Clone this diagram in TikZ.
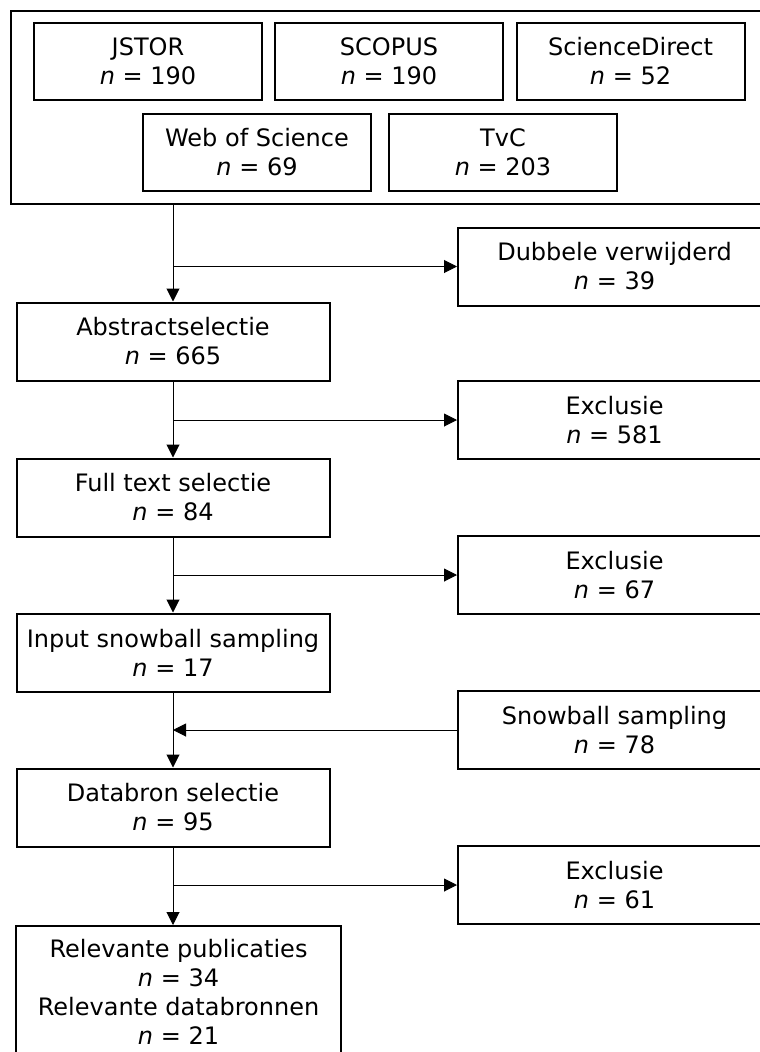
\documentclass[tikz,border=0pt]{standalone}
\usepackage{fontspec}
\setmainfont{DejaVu Sans}
\usetikzlibrary{arrows.meta}
\tikzset{
  box/.style={draw, line width=2pt, rectangle, align=center, inner sep=0pt,
    font=\fontsize{24}{29}\selectfont},
  colbox/.style={box, minimum width=313pt, minimum height=78pt},
  srcbox/.style={box, minimum width=228pt, minimum height=77pt},
  conn/.style={line width=1pt},
  arr/.style={conn, -{Triangle[length=13pt,width=13pt]}}
}
\newcommand{\nn}[1]{\textit{n} = #1}
\begin{document}
\begin{tikzpicture}[x=1pt, y={(0pt,-1pt)}]
\useasboundingbox (0,0) rectangle (760,1052);
\clip (0,0) rectangle (760,1052);
% sources
\node[box, minimum width=756pt, minimum height=193pt] (outer) at (389,107.5) {};
\node[srcbox] (jstor) at (148,61.5) {JSTOR\\\nn{190}};
\node[srcbox] (scopus) at (389,61.5) {SCOPUS\\\nn{190}};
\node[srcbox] (sd) at (630.5,61.5) {ScienceDirect\\\nn{52}};
\node[srcbox] (wos) at (257,152.5) {Web of Science\\\nn{69}};
\node[srcbox] (tvc) at (503,152.5) {TvC\\\nn{203}};
% main column
\node[colbox] (abs) at (173,341.5) {Abstractselectie\\\nn{665}};
\node[colbox] (full) at (173,497.5) {Full text selectie\\\nn{84}};
\node[colbox] (snowin) at (173,652.5) {Input snowball sampling\\\nn{17}};
\node[colbox] (data) at (173,807.5) {Databron selectie\\\nn{95}};
\node[box, minimum width=325pt, anchor=north, inner ysep=13pt] (rel) at (178.5,925)
  {Relevante publicaties\\\nn{34}\\Relevante databronnen\\\nn{21}};
% side column
\node[colbox] (dub) at (614.5,266.5) {Dubbele verwijderd\\\nn{39}};
\node[colbox] (exc1) at (614.5,420) {Exclusie\\\nn{581}};
\node[colbox] (exc2) at (614.5,575) {Exclusie\\\nn{67}};
\node[colbox] (snow) at (614.5,730) {Snowball sampling\\\nn{78}};
\node[colbox] (exc3) at (614.5,885) {Exclusie\\\nn{61}};
% branch points
\coordinate (b1) at (abs.north |- dub.west);
\coordinate (b2) at (abs.north |- exc1.west);
\coordinate (b3) at (abs.north |- exc2.west);
\coordinate (b4) at (abs.north |- snow.west);
\coordinate (b5) at (abs.north |- exc3.west);
\coordinate (o1) at (abs.north |- outer.south);
\coordinate (r1) at (abs.north |- rel.north);
% connectors
\draw[arr] (o1) -- (abs.north);
\draw[arr] (b1) -- (dub.west);
\draw[arr] (abs.south) -- (full.north);
\draw[arr] (b2) -- (exc1.west);
\draw[arr] (full.south) -- (snowin.north);
\draw[arr] (b3) -- (exc2.west);
\draw[arr] (snowin.south) -- (data.north);
\draw[arr] (snow.west) -- (b4);
\draw[arr] (data.south) -- (r1);
\draw[arr] (b5) -- (exc3.west);
\end{tikzpicture}
\end{document}
